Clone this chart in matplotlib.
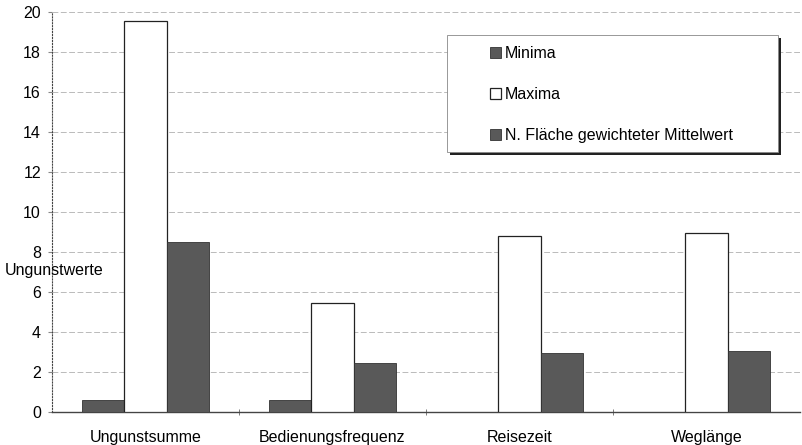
import matplotlib.pyplot as plt
import matplotlib.patches as mpatches
import numpy as np

plt.rcParams['font.family'] = ['Liberation Sans', 'DejaVu Sans']

kategorien = ["Ungunstsumme", "Bedienungsfrequenz", "Reisezeit", "Weglänge"]
minima = [0.6, 0.6, 0.0, 0.0]
maxima = [19.55, 5.43, 8.82, 8.97]
mittelwert = [8.5, 2.43, 2.97, 3.03]
serien = ["Minima", "Maxima", "N. Fläche gewichteter Mittelwert"]

FS = 11.5

fig = plt.figure(figsize=(8.02, 4.45), dpi=100)
ax = fig.add_axes([52 / 802, 33 / 445, 748 / 802, 400 / 445])

x = np.arange(len(kategorien))
w = 0.225
dunkel = "#595959"
ax.bar(x - w, minima, w, color=dunkel, edgecolor="#333333", linewidth=0.6, label=serien[0], zorder=3)
ax.bar(x, maxima, w, color="white", edgecolor="#222222", linewidth=0.9, label=serien[1], zorder=3)
ax.bar(x + w, mittelwert, w, color=dunkel, edgecolor="#333333", linewidth=0.6, label=serien[2], zorder=3)

ax.set_xlim(-0.5, len(kategorien) - 0.5)
ax.set_ylim(0, 20)
ax.set_yticks(range(0, 21, 2))
ax.set_xticks(x)
ax.set_xticklabels(kategorien, fontsize=FS)
ax.set_xticks(np.arange(0.5, len(kategorien) - 0.5, 1), minor=True)
ax.tick_params(axis="x", which="major", length=0, pad=13)
ax.tick_params(axis="x", which="minor", length=5, direction="inout", color="#666666")
ax.tick_params(axis="y", labelsize=FS, length=3, color="#888888", pad=5)

ax.yaxis.grid(True, color="#b0b0b0", linestyle=(0, (7, 3)), linewidth=0.6, zorder=0)
for s in ["top", "right"]:
    ax.spines[s].set_visible(False)
ax.spines["left"].set_linestyle(":")
ax.spines["left"].set_color("#444444")
ax.spines["bottom"].set_color("#444444")
ax.spines["bottom"].set_linewidth(1.0)

ax.text(-0.755, 7.1, "Ungunstwerte", fontsize=FS, ha="left", va="center", zorder=5)

# Legendenrahmen mit Schatten
rx, ry, rw, rh = 0.528, 0.65, 0.4425, 0.2925
schatten = mpatches.Rectangle((rx + 0.004, ry - 0.007), rw, rh, transform=ax.transAxes,
                              facecolor="#222222", edgecolor="none", zorder=6, clip_on=False)
rahmen = mpatches.Rectangle((rx, ry), rw, rh, transform=ax.transAxes,
                            facecolor="white", edgecolor="#888888", linewidth=0.6, zorder=7, clip_on=False)
ax.add_patch(schatten)
ax.add_patch(rahmen)

leg = ax.legend(loc="upper left", bbox_to_anchor=(0.5856, 0.915), fontsize=FS, frameon=False,
                handlelength=0.7, handleheight=0.7, handletextpad=0.25, labelspacing=1.62,
                borderpad=0, borderaxespad=0)
leg.set_zorder(8)

fig.savefig("out.png", dpi=100)
